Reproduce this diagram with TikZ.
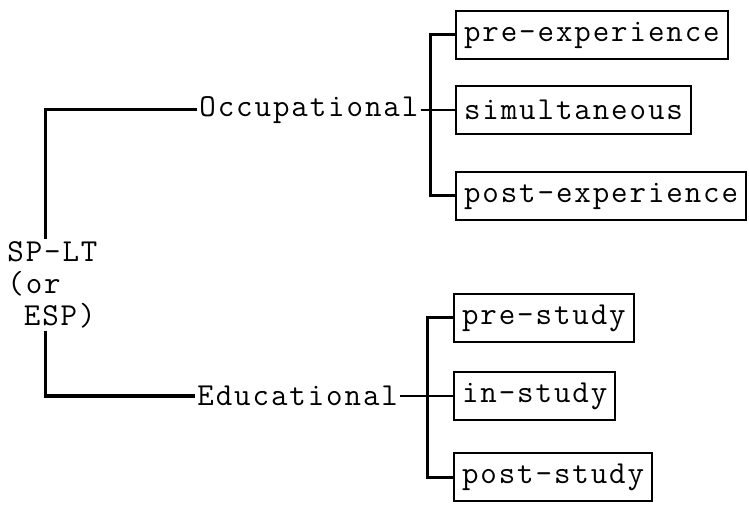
\documentclass[tikz,border=0pt]{standalone}
\usepackage{fontspec}
\setmonofont{Latin Modern Mono}[LetterSpace=6]
\usetikzlibrary{positioning}

\begin{document}
\begin{tikzpicture}[x=0.5pt,y=-0.5pt,
    font=\ttfamily\fontsize{16}{16}\selectfont,
    stage/.style={draw,line width=1pt,inner xsep=4pt,minimum height=24pt,anchor=west},
    label/.style={inner sep=1pt,anchor=west},
    branch/.style={line width=1.5pt},
    link/.style={line width=0.8pt}]
	\useasboundingbox (0,0) rectangle (749,507);
	% root and the two kinds
	\node[label,align=left] (sp) at (5,285) {SP-LT\\(or\\\hphantom{(}ESP)};
	\node[label] (occ) at (197,110) {Occupational};
	\node[label] (edu) at (195,396) {Educational};
	% occupational stages
	\node[stage] (prex) at (455,35) {pre-experience};
	\node[stage] (simu) at (455,110) {simultaneous};
	\node[stage] (postx) at (455,196) {post-experience};
	% educational stages
	\node[stage] (pres) at (453,318) {pre-study};
	\node[stage] (ins) at (453,396) {in-study};
	\node[stage] (posts) at (453,477) {post-study};
	\coordinate (obar) at (430,110);
	\coordinate (ebar) at (427,396);
	% brackets
	\draw[branch] ([xshift=20pt]sp.north west) |- (occ.west);
	\draw[branch] ([xshift=20pt]sp.south west) |- (edu.west);
	\draw[link] (occ.east) -- (obar);
	\draw[link] (edu.east) -- (ebar);
	\draw[branch] (prex.west) -| (obar) |- (postx.west);
	\draw[branch] (pres.west) -| (ebar) |- (posts.west);
	\draw[link] (obar) -- (simu.west);
	\draw[link] (ebar) -- (ins.west);
\end{tikzpicture}
\end{document}
